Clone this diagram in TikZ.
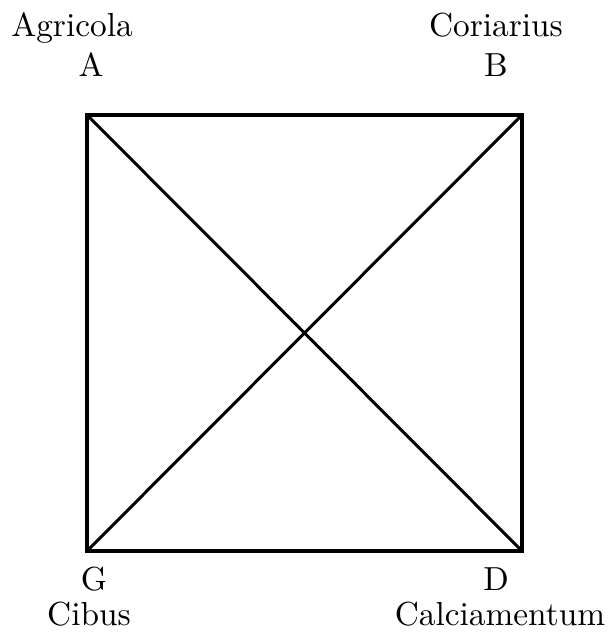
\documentclass[tikz,border=0pt]{standalone}
\usepackage{tikz}
\usetikzlibrary{positioning}

\begin{document}
\begin{tikzpicture}[
  x=0.3pt,y=-0.3pt,
  label/.style={font=\fontsize{10}{12}\selectfont,anchor=base,inner sep=0pt},
  side/.style={line width=1.2pt,line join=miter},
  diag/.style={line width=0.9pt}
]
  \useasboundingbox (0,0) rectangle (608,632);

  % corners of the square
  \coordinate (ca) at (87,115);
  \coordinate (cb) at (522,115);
  \coordinate (cg) at (87,551);
  \coordinate (cd) at (522,551);

  % letters and names
  \node[label] (a) at (91,77) {A};
  \node[label] (b) at (496,77) {B};
  \node[label] (g) at (94,590) {G};
  \node[label] (d) at (496,590) {D};
  \node[label] (agricola) at (72,37) {Agricola};
  \node[label] (coriarius) at (496,37) {Coriarius};
  \node[label] (cibus) at (89,625) {Cibus};
  \node[label] (calciamentum) at (500,625) {Calciamentum};

  \draw[side] (ca) -- (cb) -- (cd) -- (cg) -- cycle;
  \draw[diag] (ca) -- (cd);
  \draw[diag] (cb) -- (cg);
\end{tikzpicture}
\end{document}
